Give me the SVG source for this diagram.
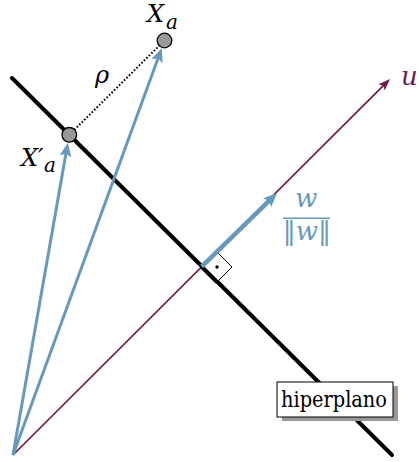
<svg xmlns="http://www.w3.org/2000/svg" width="419" height="462" viewBox="0 0 419 462">
<style>
.lbl{font-family:'DejaVu Serif',serif;font-style:italic}
.blue{stroke:#6699bb;fill:none;stroke-linecap:butt}
.pt{fill:#999999;stroke:#000;stroke-width:1.3}
</style>
<defs>
<marker id="ab" markerUnits="userSpaceOnUse" markerWidth="16" markerHeight="14" refX="5" refY="6" orient="auto" viewBox="0 0 16 14">
<path d="M0,0 L14,6 L0,12 L3,6 z" fill="#6699bb"/>
</marker>
<marker id="au" markerUnits="userSpaceOnUse" markerWidth="14" markerHeight="12" refX="6" refY="4.5" orient="auto" viewBox="0 0 14 12">
<path d="M0,0 L12,4.5 L0,9 L2.5,4.5 z" fill="#6e1a4b"/>
</marker>
</defs>
<g id="connectors">
<line id="u-axis" x1="13" y1="455" x2="385.8" y2="83.2" stroke="#6e1a4b" stroke-width="1.7" marker-end="url(#au)"/>
<line id="hyperplane" x1="12" y1="78" x2="392" y2="455" stroke="#000" stroke-width="4" stroke-linecap="round"/>
<g id="right-angle">
<path d="M202,267 L217,252 L232,267 L217,282 Z" fill="#fff" stroke="#000" stroke-width="1"/>
<line x1="202" y1="267" x2="217" y2="282" stroke="#000" stroke-width="4"/>
<circle cx="217" cy="267" r="1.7" fill="#000"/>
</g>
<line id="to-Xa" class="blue" x1="13" y1="455" x2="158.7" y2="56.5" stroke-width="3" marker-end="url(#ab)"/>
<line id="to-Xa-prime" class="blue" x1="13" y1="455" x2="66.3" y2="151.6" stroke-width="3" marker-end="url(#ab)"/>
<line id="w-arrow" class="blue" x1="201.7" y1="266.7" x2="270.6" y2="199.3" stroke-width="4.5" marker-end="url(#ab)"/>
<line id="rho" x1="69.3" y1="134.8" x2="164.5" y2="40.5" stroke="#000" stroke-width="2" stroke-dasharray="1.6 1.9"/>
</g>
<g id="Xa">
<circle class="pt" cx="164.5" cy="40.5" r="7.3"/>
<text class="lbl" x="147" y="22" font-size="24">X<tspan x="166" y="29" font-size="20">a</tspan></text>
</g>
<g id="Xa-prime">
<circle class="pt" cx="69.3" cy="134.8" r="7.3"/>
<text class="lbl" x="21" y="166" font-size="24">X′<tspan x="44" y="172" font-size="20">a</tspan></text>
</g>
<g id="rho-label">
<text class="lbl" x="95" y="83" font-size="24">ρ</text>
</g>
<g id="w-label" fill="#6699bb">
<text class="lbl" x="306.5" y="207" font-size="26" text-anchor="middle">w</text>
<line x1="283" y1="218.3" x2="330" y2="218.3" stroke="#6699bb" stroke-width="1.5"/>
<text class="lbl" x="307" y="240" font-size="26" text-anchor="middle">‖w‖</text>
</g>
<g id="u-label">
<text class="lbl" x="401" y="85" font-size="26" fill="#6e1a4b">u</text>
</g>
<g id="hiperplano">
<rect x="282" y="386" width="116" height="35" fill="#999999"/>
<rect x="277" y="382" width="116" height="35" fill="#fff" stroke="#000" stroke-width="1"/>
<text x="281" y="407" font-size="22" textLength="106" lengthAdjust="spacingAndGlyphs" font-family="'DejaVu Serif',serif">hiperplano</text>
</g>
</svg>
